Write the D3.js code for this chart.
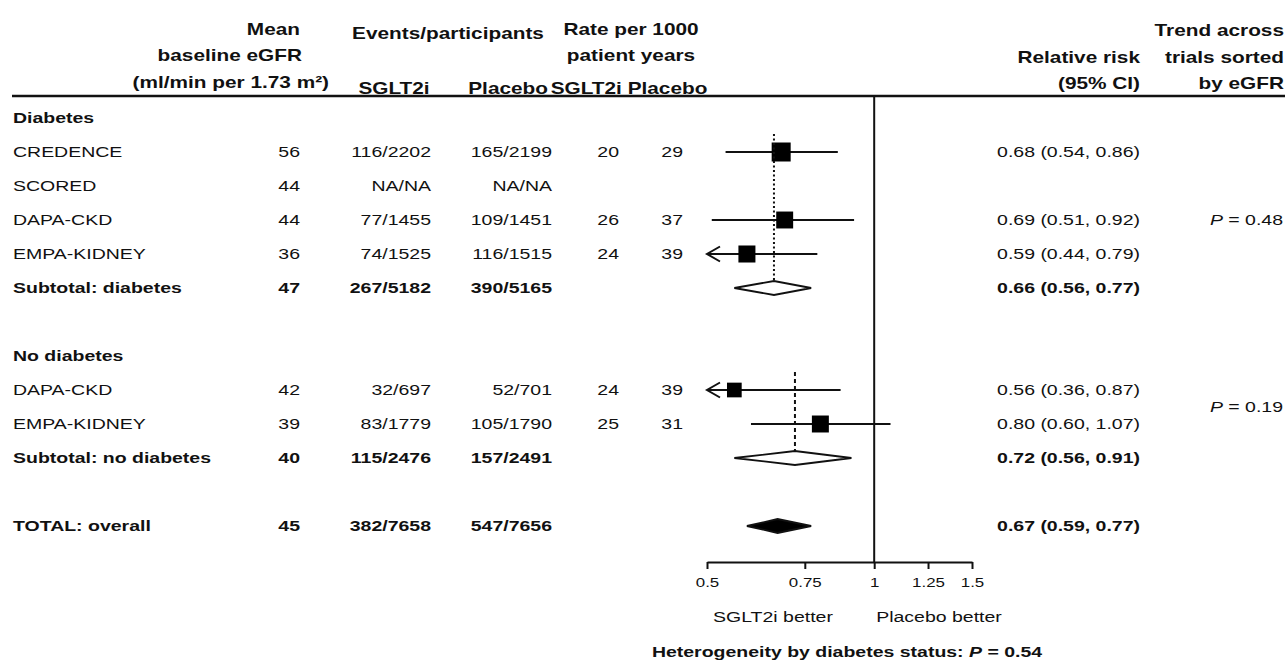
<!DOCTYPE html>
<html>
<head>
<meta charset="utf-8">
<script src="https://cdn.jsdelivr.net/npm/d3@7.9.0/dist/d3.min.js"></script>
<style>
  body { margin: 0; background: #fff; }
  svg text { font-family: "Liberation Sans", Arial, sans-serif; fill: #111; }
</style>
</head>
<body>
<svg id="chart" width="1285" height="664"></svg>
<script>
// trial rows
const groupNames = ["Diabetes", "No diabetes"];
const trialNames = ["CREDENCE", "SCORED", "DAPA-CKD", "EMPA-KIDNEY", "DAPA-CKD", "EMPA-KIDNEY"];
const trialGroup = [0, 0, 0, 0, 1, 1];
const trialEGFR = [56, 44, 44, 36, 42, 39];
const sgltEvents = [116, null, 77, 74, 32, 83];
const sgltN = [2202, null, 1455, 1525, 697, 1779];
const placeboEvents = [165, null, 109, 116, 52, 105];
const placeboN = [2199, null, 1451, 1515, 701, 1790];
const rateSglt = [20, null, 26, 24, 24, 25];
const ratePlacebo = [29, null, 37, 39, 39, 31];
const trialRR = [0.68, null, 0.69, 0.59, 0.56, 0.80];
const trialLo = [0.54, null, 0.51, 0.44, 0.36, 0.60];
const trialHi = [0.86, null, 0.92, 0.79, 0.87, 1.07];

// subtotals + overall
const summaryNames = ["Subtotal: diabetes", "Subtotal: no diabetes", "TOTAL: overall"];
const summaryEGFR = [47, 40, 45];
const summarySgltEvents = [267, 115, 382];
const summarySgltN = [5182, 2476, 7658];
const summaryPlaceboEvents = [390, 157, 547];
const summaryPlaceboN = [5165, 2491, 7656];
const summaryRR = [0.66, 0.72, 0.67];
const summaryLo = [0.56, 0.56, 0.59];
const summaryHi = [0.77, 0.91, 0.77];

const trendP = ["0.48", "0.19"];
const heterogeneityP = "0.54";
const xTicks = [0.5, 0.75, 1, 1.25, 1.5];

const SX = 1.3; // the figure is stretched sideways
const col = { name: 13, egfr: 300, sglt: 431, plac: 552, rateS: 619, rateP: 683, rr: 1140, trend: 1283 };

const svg = d3.select('#chart');

// row layout
const rows = [];
let r = 0;
groupNames.forEach((g, gi) => {
  rows.push({ type: 'group', gi, row: r++ });
  trialNames.forEach((t, i) => { if (trialGroup[i] === gi) rows.push({ type: 'trial', i, row: r++ }); });
  rows.push({ type: 'summary', i: gi, row: r++ });
  r++;
});
rows.push({ type: 'summary', i: 2, row: r });

const y = d3.scaleLinear().domain([0, 12]).range([118, 526]);
const x = d3.scaleLog().domain([0.5, 1.5]).range([707, 972]);
const size = d3.scaleLinear().domain([84, 281]).range([14.7, 19]);

function label(px, py, parts, opts = {}) {
  const t = svg.append('text')
    .attr('transform', `translate(${px},${py}) scale(${SX},1)`)
    .attr('text-anchor', opts.anchor || 'start')
    .attr('dy', '0.35em')
    .style('font-size', (opts.size || 15) + 'px')
    .style('font-weight', opts.weight || 'normal');
  if (typeof parts === 'string') parts = [parts];
  parts.forEach(p => {
    if (typeof p === 'string') t.append('tspan').text(p);
    else t.append('tspan').style('font-style', 'italic').text(p.i);
  });
  return t;
}
const frac = (e, n) => e == null ? 'NA/NA' : `${e}/${n}`;
const ci = (m, l, h) => `${m.toFixed(2)} (${l.toFixed(2)}, ${h.toFixed(2)})`;

// header
const H = { size: 16, weight: 'bold' };
label(300, 29, 'Mean', { ...H, anchor: 'end' });
label(302, 55, 'baseline eGFR', { ...H, anchor: 'end' });
label(329, 82, '(ml/min per 1.73 m²)', { ...H, anchor: 'end' });
label(448, 33, 'Events/participants', { ...H, anchor: 'middle' });
label(394, 88, 'SGLT2i', { ...H, anchor: 'middle' });
label(548, 88, 'Placebo', { ...H, anchor: 'end' });
label(631, 29, 'Rate per 1000', { ...H, anchor: 'middle' });
label(631, 55, 'patient years', { ...H, anchor: 'middle' });
label(629, 88, 'SGLT2i Placebo', { ...H, anchor: 'middle' });
label(1140, 57, 'Relative risk', { ...H, anchor: 'end' });
label(1140, 83, '(95% CI)', { ...H, anchor: 'end' });
label(1284, 30, 'Trend across', { ...H, anchor: 'end' });
label(1284, 57, 'trials sorted', { ...H, anchor: 'end' });
label(1284, 83, 'by eGFR', { ...H, anchor: 'end' });

svg.append('line')
  .attr('x1', 12).attr('x2', 1285).attr('y1', 96).attr('y2', 96)
  .attr('stroke', '#111').attr('stroke-width', 2.5);

// vertical line at RR = 1
svg.append('line')
  .attr('x1', x(1)).attr('x2', x(1)).attr('y1', 96).attr('y2', 562)
  .attr('stroke', '#111').attr('stroke-width', 2);

// table rows
rows.forEach(d => {
  const py = y(d.row);
  if (d.type === 'group') {
    label(col.name, py, groupNames[d.gi], { weight: 'bold' });
  } else if (d.type === 'trial') {
    const i = d.i;
    label(col.name, py, trialNames[i]);
    label(col.egfr, py, String(trialEGFR[i]), { anchor: 'end' });
    label(col.sglt, py, frac(sgltEvents[i], sgltN[i]), { anchor: 'end' });
    label(col.plac, py, frac(placeboEvents[i], placeboN[i]), { anchor: 'end' });
    if (rateSglt[i] != null) {
      label(col.rateS, py, String(rateSglt[i]), { anchor: 'end' });
      label(col.rateP, py, String(ratePlacebo[i]), { anchor: 'end' });
    }
    if (trialRR[i] != null) {
      label(col.rr, py, ci(trialRR[i], trialLo[i], trialHi[i]), { anchor: 'end' });
      const lo = Math.max(trialLo[i], x.domain()[0]);
      svg.append('line')
        .attr('x1', x(lo)).attr('x2', x(trialHi[i])).attr('y1', py).attr('y2', py)
        .attr('stroke', '#111').attr('stroke-width', 2);
      if (trialLo[i] < x.domain()[0]) {
        const ax = x(x.domain()[0]);
        svg.append('path')
          .attr('d', `M${ax + 13},${py - 7.5}L${ax},${py}L${ax + 13},${py + 7.5}`)
          .attr('fill', 'none').attr('stroke', '#111').attr('stroke-width', 2);
      }
      const s = size(sgltEvents[i] + placeboEvents[i]);
      svg.append('rect')
        .attr('x', x(trialRR[i]) - s / 2).attr('y', py - s / 2)
        .attr('width', s).attr('height', s).attr('fill', '#000');
    }
  } else {
    const i = d.i;
    const B = { weight: 'bold' };
    label(col.name, py, summaryNames[i], B);
    label(col.egfr, py, String(summaryEGFR[i]), { ...B, anchor: 'end' });
    label(col.sglt, py, frac(summarySgltEvents[i], summarySgltN[i]), { ...B, anchor: 'end' });
    label(col.plac, py, frac(summaryPlaceboEvents[i], summaryPlaceboN[i]), { ...B, anchor: 'end' });
    label(col.rr, py, ci(summaryRR[i], summaryLo[i], summaryHi[i]), { ...B, anchor: 'end' });
    const h = 7;
    svg.append('path')
      .attr('d', `M${x(summaryLo[i])},${py}L${x(summaryRR[i])},${py - h}L${x(summaryHi[i])},${py}L${x(summaryRR[i])},${py + h}Z`)
      .attr('fill', i === 2 ? '#000' : '#fff')
      .attr('stroke', '#111').attr('stroke-width', 1.8);
  }
});

// dotted subtotal reference lines
groupNames.forEach((g, gi) => {
  const first = rows.find(d => d.type === 'trial' && trialGroup[d.i] === gi);
  const sub = rows.find(d => d.type === 'summary' && d.i === gi);
  svg.append('line')
    .attr('x1', x(summaryRR[gi])).attr('x2', x(summaryRR[gi]))
    .attr('y1', y(first.row) - 18).attr('y2', y(sub.row) - 7)
    .attr('stroke', '#111').attr('stroke-width', 2)
    .attr('stroke-dasharray', gi === 0 ? '2,2.5' : '4,3');
});

// trend p-values
label(col.trend, y(3), ['', { i: 'P' }, ' = ' + trendP[0]], { anchor: 'end' });
label(col.trend, (y(8) + y(9)) / 2, ['', { i: 'P' }, ' = ' + trendP[1]], { anchor: 'end' });

// axis
const axis = svg.append('g')
  .attr('transform', 'translate(0,562)')
  .call(d3.axisBottom(x).tickValues(xTicks).tickSize(7).tickSizeOuter(0).tickFormat(d3.format('')));
axis.select('.domain').attr('stroke', '#111').attr('stroke-width', 2);
axis.selectAll('.tick line').attr('stroke', '#111').attr('stroke-width', 2);
axis.selectAll('.tick text')
  .attr('y', 20).attr('dy', '0.35em')
  .attr('transform', `scale(${SX},1)`)
  .style('font-size', '13px').style('font-family', '"Liberation Sans", Arial, sans-serif')
  .attr('fill', '#111');

label(773, 617, 'SGLT2i better', { anchor: 'middle' });
label(939, 617, 'Placebo better', { anchor: 'middle' });
label(847, 652, ['Heterogeneity by diabetes status: ', { i: 'P' }, ' = ' + heterogeneityP], { anchor: 'middle', weight: 'bold' });
</script>
</body>
</html>
